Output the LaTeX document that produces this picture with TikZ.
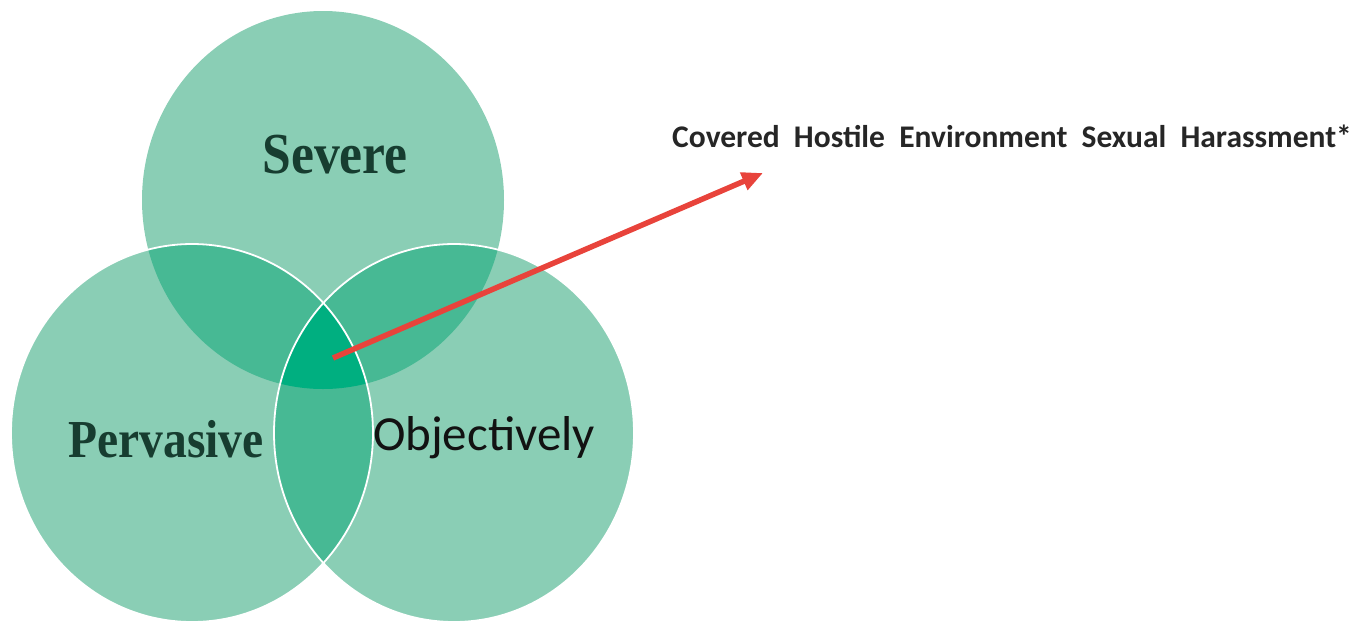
\documentclass[tikz,border=0pt]{standalone}
\usepackage{fontspec}
\setmainfont{Liberation Serif}
\newfontfamily\narrowserif[FakeStretch=0.89]{Liberation Serif}
\newfontfamily\calibri{Carlito}
\usetikzlibrary{arrows.meta}
\definecolor{setfill}{HTML}{8ACEB5}
\definecolor{pairfill}{HTML}{47B994}
\definecolor{corefill}{HTML}{00AF80}
\definecolor{setgreen}{HTML}{173D30}
\definecolor{pointred}{HTML}{E8433B}
\newcommand\severeset{(323,200) ellipse [x radius=181pt, y radius=189pt]}
\newcommand\pervasiveset{(192,433) ellipse [x radius=181pt, y radius=189pt]}
\newcommand\objectiveset{(454,433) ellipse [x radius=180pt, y radius=189pt]}
\tikzset{
  every node/.style={
    inner sep=0pt
  },
  rim/.style={
    draw=white,
    line width=1.8pt
  },
  serif label/.style={
    font=\narrowserif\bfseries\fontsize{#1}{#1}\selectfont,
    text=setgreen,
    anchor=base
  },
  sans label/.style={
    font=\calibri\fontsize{49}{49}\selectfont,
    text=black!93,
    anchor=base
  },
  claim/.style={
    font=\calibri\bfseries\fontsize{31.5}{31.5}\selectfont,
    text=black!85,
    anchor=base west
  },
  pointer/.style={
    draw=pointred,
    line width=5.5pt,
    -{Triangle[length=21pt,width=18pt]}
  }
}

\begin{document}
\begin{tikzpicture}[x=1pt,y=-1pt]
  \useasboundingbox (0,0) rectangle (1366,625);
  % single sets
  \fill[setfill] \severeset;
  \fill[setfill] \pervasiveset;
  \fill[setfill] \objectiveset;
  % pairwise overlaps
  \begin{scope}
    \clip \severeset;
    \fill[pairfill] \pervasiveset;
    \fill[pairfill] \objectiveset;
  \end{scope}
  \begin{scope}
    \clip \pervasiveset;
    \fill[pairfill] \objectiveset;
  \end{scope}
  % all three
  \begin{scope}
    \clip \severeset;
    \clip \pervasiveset;
    \fill[corefill] \objectiveset;
  \end{scope}
  \path[rim] \pervasiveset;
  \path[rim] \objectiveset;

  \node[serif label=58] (severe) at (335,173) {Severe};
  \node[serif label=53.4] (pervasive) at (166,457) {Pervasive};
  \node[sans label] (objectively) at (484,450) {Objectively};
  \node[claim] (claim) at (672,147)
    {Covered\ \ Hostile\ \ Environment\ \ Sexual\ \ Harassment*};

  \coordinate (core) at (333,358);
  \coordinate (tip) at ([shift={(91,26)}]claim.base west);
  \draw[pointer] (core) -- (tip);
\end{tikzpicture}
\end{document}
